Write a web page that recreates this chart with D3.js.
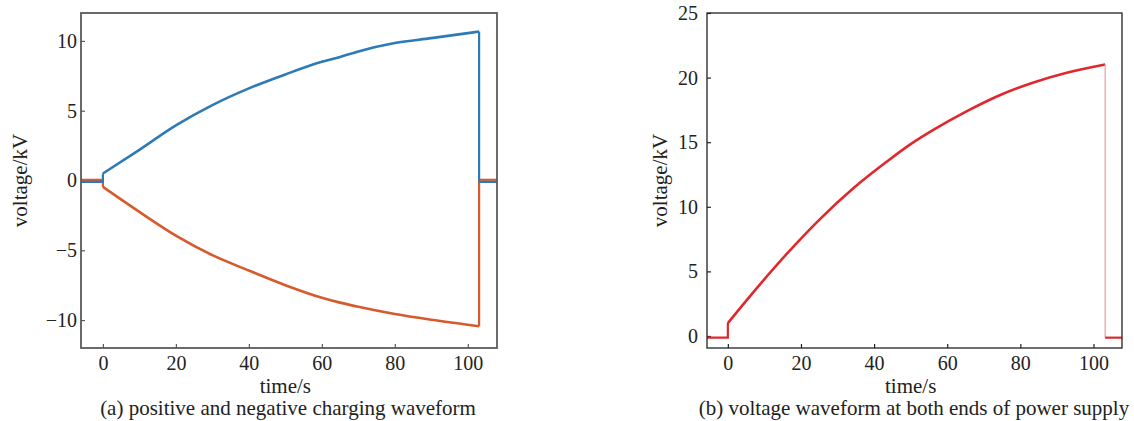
<!DOCTYPE html>
<html>
<head>
<meta charset="utf-8">
<script src="https://cdn.jsdelivr.net/npm/d3@7"></script>
<style>
  body { margin: 0; background: #fff; }
  text { font-family: "Liberation Serif", "Times New Roman", serif; fill: #222; }
</style>
</head>
<body>
<svg id="chart" width="1134" height="421"></svg>
<script>
// panel (a): ramp samples between switch-on (t=0) and switch-off (t=103.1)
let timeA = [0, 10, 20, 30, 40, 50, 60, 65, 70, 80, 90, 103.1]
let posA  = [0.5, 2.2, 3.95, 5.4, 6.6, 7.6, 8.5, 8.85, 9.25, 9.85, 10.2, 10.67]
let negA  = [-0.46, -2.25, -3.95, -5.35, -6.45, -7.5, -8.4, -8.75, -9.05, -9.57, -9.98, -10.44]
let posBase = -0.1
let negBase = 0.05

// panel (b)
let timeB = [0, 7, 16.1, 25.2, 34.4, 43.5, 50, 56.2, 65.4, 74.5, 83.6, 92.7, 103.2]
let supplyB = [1.0, 3.4, 6.35, 9.05, 11.45, 13.5, 14.85, 15.95, 17.4, 18.65, 19.62, 20.37, 21.01]
let supplyBase = -0.13

let xTicks = [0, 20, 40, 60, 80, 100]
let yTicksA = [-10, -5, 0, 5, 10]
let yTicksB = [0, 5, 10, 15, 20, 25]

let svg = d3.select('#chart')

let drawPanel = (opt) => {
    let g = svg.append('g')
    let x = d3.scaleLinear().domain(opt.xDomain).range([opt.left, opt.right])
    let y = d3.scaleLinear().domain(opt.yDomain).range([opt.bottom, opt.top])

    g.append('clipPath').attr('id', opt.id)
        .append('rect')
        .attr('x', opt.left).attr('y', opt.top)
        .attr('width', opt.right - opt.left).attr('height', opt.bottom - opt.top)

    // axes, ticks pointing inward
    let xAxis = d3.axisBottom(x).tickValues(xTicks).tickSizeInner(-4).tickSizeOuter(0).tickPadding(8)
    let yAxis = d3.axisLeft(y).tickValues(opt.yTicks).tickSizeInner(-4).tickSizeOuter(0).tickPadding(opt.yPad)

    let gx = g.append('g').attr('transform', 'translate(0,' + opt.bottom + ')').call(xAxis)
    let gy = g.append('g').attr('transform', 'translate(' + opt.left + ',0)').call(yAxis)
    ;[gx, gy].forEach((a) => {
        a.select('.domain').remove()
        a.selectAll('line').attr('stroke', opt.frame).attr('stroke-width', 1.2)
        a.selectAll('text').style('font-family', '"Liberation Serif", serif')
            .style('font-size', '20px').attr('fill', '#222')
    })

    let lineFlat = d3.line().x(d => x(d[0])).y(d => y(d[1]))
    let lineRamp = d3.line().x(d => x(d[0])).y(d => y(d[1])).curve(d3.curveMonotoneX)
    let plot = g.append('g').attr('clip-path', 'url(#' + opt.id + ')')

    opt.series.forEach((s) => {
        let ramp = s.t.map((t, i) => [t, s.v[i]])
        let first = ramp[0]
        let last = ramp[ramp.length - 1]
        let pre = [[opt.xDomain[0], s.base], [first[0], s.base], first]
        let drop = [last, [last[0], s.base]]
        let post = [[last[0], s.base], [opt.xDomain[1], s.base]]
        plot.append('path').attr('d', lineFlat(pre))
            .attr('fill', 'none').attr('stroke', s.color).attr('stroke-width', 2.2)
        plot.append('path').attr('d', lineRamp(ramp))
            .attr('fill', 'none').attr('stroke', s.color).attr('stroke-width', 2.6)
        plot.append('path').attr('d', lineFlat(drop))
            .attr('fill', 'none').attr('stroke', s.dropColor || s.color).attr('stroke-width', s.dropWidth || 2.2)
        plot.append('path').attr('d', lineFlat(post))
            .attr('fill', 'none').attr('stroke', s.color).attr('stroke-width', 2.2)
    })

    // frame
    g.append('rect')
        .attr('x', opt.left).attr('y', opt.top)
        .attr('width', opt.right - opt.left).attr('height', opt.bottom - opt.top)
        .attr('fill', 'none').attr('stroke', opt.frame).attr('stroke-width', opt.frameWidth)

    g.append('text')
        .attr('x', x(50)).attr('y', 393)
        .attr('text-anchor', 'middle').style('font-size', '21px')
        .text('time/s')
    g.append('text')
        .attr('transform', 'translate(' + opt.yLabelX + ',' + (opt.top + opt.bottom) / 2 + ') rotate(-90)')
        .attr('text-anchor', 'middle').style('font-size', '21px')
        .text('voltage/kV')
    g.append('text')
        .attr('x', opt.captionX).attr('y', 415)
        .attr('text-anchor', 'middle').style('font-size', '21px')
        .text(opt.caption)
}

drawPanel({
    id: 'clipA', left: 81, right: 497, top: 13, bottom: 348,
    xDomain: [-6, 108], yDomain: [-12, 12], yTicks: yTicksA, yPad: 4,
    frame: '#5a5a5a', frameWidth: 1.8, yLabelX: 27,
    caption: '(a) positive and negative charging waveform', captionX: 288,
    series: [
        { t: timeA, v: negA, base: negBase, color: '#d65a2e' },
        { t: timeA, v: posA, base: posBase, color: '#2e7ab6' }
    ]
})

drawPanel({
    id: 'clipB', left: 707, right: 1122, top: 13, bottom: 348,
    xDomain: [-5.7, 107.8], yDomain: [-0.93, 25], yTicks: yTicksB, yPad: 9,
    frame: '#222', frameWidth: 1.3, yLabelX: 667,
    caption: '(b) voltage waveform at both ends of power supply', captionX: 914,
    series: [
        { t: timeB, v: supplyB, base: supplyBase, color: '#e0282c', dropColor: '#f19a9a', dropWidth: 1.2 }
    ]
})
</script>
</body>
</html>
